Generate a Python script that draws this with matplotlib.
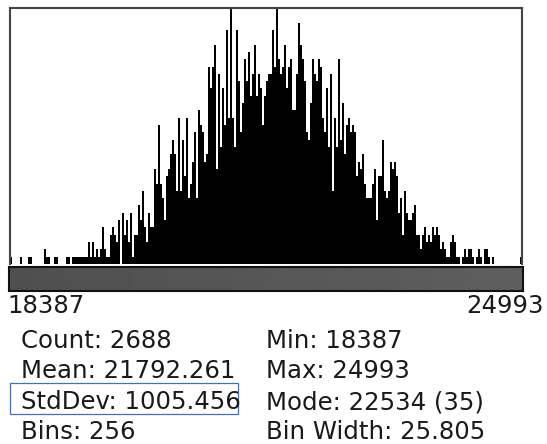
#!/usr/bin/env python3
"""Redraw an ImageJ style histogram window (256 bins) with its statistics panel."""

import matplotlib

matplotlib.use("Agg")
import matplotlib.pyplot as plt
import numpy as np
from matplotlib.patches import Rectangle

# bin counts, 256 bins from 18387 to 24993
COUNTS_LOW = [
    1, 0, 0, 0, 0, 1, 0, 0, 0, 1, 1, 0, 0, 0, 0, 0,
    0, 2, 1, 1, 0, 0, 1, 1, 0, 0, 0, 0, 1, 1, 0, 1,
    1, 1, 1, 1, 1, 1, 1, 3, 1, 3, 1, 2, 1, 2, 5, 2,
    1, 1, 4, 5, 4, 3, 6, 0, 7, 4, 6, 3, 7, 1, 4, 4,
]
COUNTS_MID_LEFT = [
    8, 6, 10, 5, 3, 7, 5, 5, 13, 11, 19, 11, 9, 6, 12, 13,
    15, 17, 15, 10, 20, 10, 17, 12, 20, 9, 11, 14, 18, 9, 21, 19,
    18, 14, 15, 27, 24, 27, 30, 13, 26, 16, 24, 19, 32, 20, 35, 20,
    16, 32, 25, 18, 22, 28, 25, 29, 23, 26, 30, 23, 26, 24, 19, 23,
]
COUNTS_MID_RIGHT = [
    25, 26, 26, 32, 27, 35, 28, 26, 27, 30, 24, 27, 28, 21, 21, 26,
    33, 30, 28, 25, 18, 17, 22, 28, 26, 25, 28, 27, 20, 18, 24, 16,
    26, 10, 20, 16, 28, 17, 22, 15, 19, 20, 18, 19, 18, 12, 14, 13,
    15, 11, 9, 9, 9, 11, 13, 6, 12, 12, 17, 10, 9, 10, 14, 13,
]
COUNTS_HIGH = [
    14, 12, 7, 9, 4, 10, 7, 6, 6, 7, 8, 4, 4, 2, 4, 5,
    3, 4, 3, 5, 4, 5, 4, 2, 3, 2, 1, 1, 3, 4, 3, 1,
    1, 0, 1, 2, 1, 2, 2, 1, 0, 1, 2, 1, 0, 2, 2, 1,
    0, 1, 0, 0, 0, 0, 0, 0, 0, 0, 0, 0, 0, 0, 0, 1,
]
COUNTS = COUNTS_LOW + COUNTS_MID_LEFT + COUNTS_MID_RIGHT + COUNTS_HIGH

RANGE_LABELS = ["18387", "24993"]
STATS_LEFT = ["Count: 2688", "Mean: 21792.261", "StdDev: 1005.456", "Bins: 256"]
STATS_RIGHT = ["Min: 18387", "Max: 24993", "Mode: 22534 (35)", "Bin Width: 25.805"]

W, H = 547, 444


def fig_box(x0, y0, x1, y1):
    """pixel box (top-left origin) -> figure rect"""
    return [x0 / W, 1 - y1 / H, (x1 - x0) / W, (y1 - y0) / H]


def main():
    fig = plt.figure(figsize=(W / 100, H / 100), dpi=100)
    fig.patch.set_facecolor("white")

    # histogram
    ax = fig.add_axes(fig_box(10, 8, 522, 264))
    ax.bar(np.arange(len(COUNTS)), COUNTS, width=1.0, align="edge",
           color="black", linewidth=0)
    ax.set_xlim(0, len(COUNTS))
    ax.set_ylim(0, max(COUNTS))
    ax.set_xticks([])
    ax.set_yticks([])
    for spine in ax.spines.values():
        spine.set_color("#444444")
        spine.set_linewidth(1.5)
    ax.spines["bottom"].set_visible(False)

    # LUT bar under the histogram
    lut = fig.add_axes(fig_box(9, 267, 523, 291))
    grad = np.linspace(0.31, 0.37, 256).reshape(1, -1)
    lut.imshow(grad, aspect="auto", cmap="gray", vmin=0, vmax=1,
               extent=[0, 1, 0, 1])
    lut.set_xticks([])
    lut.set_yticks([])
    for spine in lut.spines.values():
        spine.set_color("#111111")
        spine.set_linewidth(1.5)

    txt = dict(fontsize=17.6, color="#1a1a1a", family="DejaVu Sans")
    fig.text(7 / W, 1 - 313 / H, RANGE_LABELS[0], ha="left", va="baseline", **txt)
    fig.text(544 / W, 1 - 313 / H, RANGE_LABELS[1], ha="right", va="baseline", **txt)

    baselines = [348, 378, 409, 439]
    for left, right, yb in zip(STATS_LEFT, STATS_RIGHT, baselines):
        fig.text(21 / W, 1 - yb / H, left, ha="left", va="baseline", **txt)
        fig.text(266 / W, 1 - yb / H, right, ha="left", va="baseline", **txt)

    # blue selection box round the StdDev line
    x0, y0, x1, y1 = 10 / W, 1 - 414 / H, 238 / W, 1 - 383 / H
    fig.patches.append(Rectangle((x0, y0), x1 - x0, y1 - y0, transform=fig.transFigure,
                                 fill=False, edgecolor="#4a6fae", linewidth=0.9))

    fig.savefig("out.png", dpi=100, facecolor="white")


if __name__ == "__main__":
    main()
